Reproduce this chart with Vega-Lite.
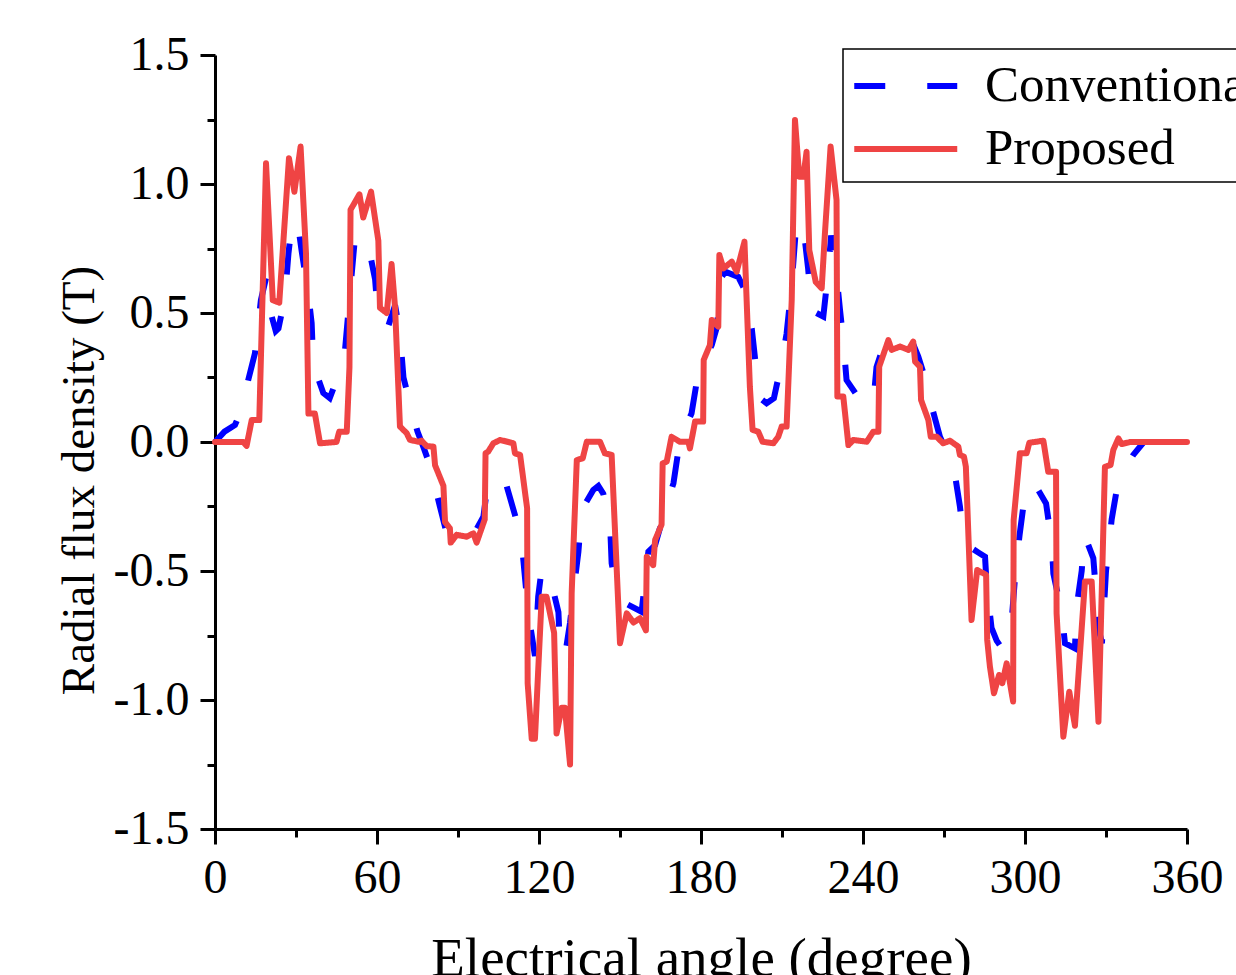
{
  "$schema": "https://vega.github.io/schema/vega-lite/v6.json",
  "width": 972,
  "height": 774,
  "autosize": "none",
  "padding": {"left": 215, "top": 55, "right": 49, "bottom": 146},
  "background": "white",
  "config": {"view": {"stroke": null}, "font": "Liberation Serif"},
  "data": {"values": [
    {"a": 0, "b": 0, "s": "Conventional"},
    {"a": 3.5, "b": 0.04, "s": "Conventional"},
    {"a": 7.4, "b": 0.066, "s": "Conventional"},
    {"a": 10, "b": 0.13, "s": "Conventional"},
    {"a": 12.3, "b": 0.24, "s": "Conventional"},
    {"a": 14.8, "b": 0.344, "s": "Conventional"},
    {"a": 17, "b": 0.55, "s": "Conventional"},
    {"a": 19, "b": 0.64, "s": "Conventional"},
    {"a": 20.4, "b": 0.51, "s": "Conventional"},
    {"a": 22.5, "b": 0.43, "s": "Conventional"},
    {"a": 23.5, "b": 0.44, "s": "Conventional"},
    {"a": 25.9, "b": 0.56, "s": "Conventional"},
    {"a": 27.2, "b": 0.73, "s": "Conventional"},
    {"a": 28.4, "b": 0.84, "s": "Conventional"},
    {"a": 29.5, "b": 0.86, "s": "Conventional"},
    {"a": 30.9, "b": 0.83, "s": "Conventional"},
    {"a": 32.1, "b": 0.74, "s": "Conventional"},
    {"a": 34.6, "b": 0.57, "s": "Conventional"},
    {"a": 35.8, "b": 0.46, "s": "Conventional"},
    {"a": 36.4, "b": 0.3, "s": "Conventional"},
    {"a": 40.1, "b": 0.19, "s": "Conventional"},
    {"a": 42.5, "b": 0.17, "s": "Conventional"},
    {"a": 45, "b": 0.24, "s": "Conventional"},
    {"a": 48.1, "b": 0.35, "s": "Conventional"},
    {"a": 50.2, "b": 0.6, "s": "Conventional"},
    {"a": 51.9, "b": 0.8, "s": "Conventional"},
    {"a": 54.3, "b": 0.74, "s": "Conventional"},
    {"a": 57.4, "b": 0.73, "s": "Conventional"},
    {"a": 59.3, "b": 0.63, "s": "Conventional"},
    {"a": 60.5, "b": 0.47, "s": "Conventional"},
    {"a": 64.2, "b": 0.45, "s": "Conventional"},
    {"a": 66.7, "b": 0.53, "s": "Conventional"},
    {"a": 68.5, "b": 0.42, "s": "Conventional"},
    {"a": 69.8, "b": 0.25, "s": "Conventional"},
    {"a": 72.2, "b": 0.15, "s": "Conventional"},
    {"a": 75, "b": 0.04, "s": "Conventional"},
    {"a": 77.2, "b": -0.02, "s": "Conventional"},
    {"a": 79.6, "b": -0.09, "s": "Conventional"},
    {"a": 83.3, "b": -0.25, "s": "Conventional"},
    {"a": 85.8, "b": -0.354, "s": "Conventional"},
    {"a": 89, "b": -0.38, "s": "Conventional"},
    {"a": 93, "b": -0.37, "s": "Conventional"},
    {"a": 96.3, "b": -0.348, "s": "Conventional"},
    {"a": 99.4, "b": -0.29, "s": "Conventional"},
    {"a": 101.2, "b": -0.147, "s": "Conventional"},
    {"a": 105.6, "b": -0.141, "s": "Conventional"},
    {"a": 108, "b": -0.17, "s": "Conventional"},
    {"a": 111.1, "b": -0.283, "s": "Conventional"},
    {"a": 113.6, "b": -0.39, "s": "Conventional"},
    {"a": 116, "b": -0.66, "s": "Conventional"},
    {"a": 118.5, "b": -0.83, "s": "Conventional"},
    {"a": 119.7, "b": -0.6, "s": "Conventional"},
    {"a": 121, "b": -0.49, "s": "Conventional"},
    {"a": 122.5, "b": -0.5, "s": "Conventional"},
    {"a": 124.7, "b": -0.55, "s": "Conventional"},
    {"a": 127.2, "b": -0.66, "s": "Conventional"},
    {"a": 127.8, "b": -0.81, "s": "Conventional"},
    {"a": 129.6, "b": -0.83, "s": "Conventional"},
    {"a": 131.5, "b": -0.7, "s": "Conventional"},
    {"a": 133.3, "b": -0.535, "s": "Conventional"},
    {"a": 134.6, "b": -0.425, "s": "Conventional"},
    {"a": 135.8, "b": -0.264, "s": "Conventional"},
    {"a": 140.1, "b": -0.186, "s": "Conventional"},
    {"a": 142, "b": -0.17, "s": "Conventional"},
    {"a": 143.8, "b": -0.2, "s": "Conventional"},
    {"a": 146.3, "b": -0.31, "s": "Conventional"},
    {"a": 146.9, "b": -0.47, "s": "Conventional"},
    {"a": 148.8, "b": -0.575, "s": "Conventional"},
    {"a": 151.9, "b": -0.625, "s": "Conventional"},
    {"a": 158, "b": -0.658, "s": "Conventional"},
    {"a": 159.9, "b": -0.48, "s": "Conventional"},
    {"a": 160.5, "b": -0.425, "s": "Conventional"},
    {"a": 163, "b": -0.4, "s": "Conventional"},
    {"a": 166.7, "b": -0.264, "s": "Conventional"},
    {"a": 169.8, "b": -0.16, "s": "Conventional"},
    {"a": 172.2, "b": 0.008, "s": "Conventional"},
    {"a": 176.5, "b": 0.111, "s": "Conventional"},
    {"a": 179, "b": 0.27, "s": "Conventional"},
    {"a": 184, "b": 0.376, "s": "Conventional"},
    {"a": 186, "b": 0.45, "s": "Conventional"},
    {"a": 187, "b": 0.63, "s": "Conventional"},
    {"a": 189, "b": 0.66, "s": "Conventional"},
    {"a": 193.8, "b": 0.64, "s": "Conventional"},
    {"a": 195.7, "b": 0.6, "s": "Conventional"},
    {"a": 198.8, "b": 0.44, "s": "Conventional"},
    {"a": 200, "b": 0.325, "s": "Conventional"},
    {"a": 201.9, "b": 0.17, "s": "Conventional"},
    {"a": 204.3, "b": 0.15, "s": "Conventional"},
    {"a": 207, "b": 0.17, "s": "Conventional"},
    {"a": 209.9, "b": 0.31, "s": "Conventional"},
    {"a": 211.7, "b": 0.42, "s": "Conventional"},
    {"a": 213.5, "b": 0.6, "s": "Conventional"},
    {"a": 215.4, "b": 0.86, "s": "Conventional"},
    {"a": 217.3, "b": 0.82, "s": "Conventional"},
    {"a": 218.5, "b": 0.78, "s": "Conventional"},
    {"a": 219.7, "b": 0.67, "s": "Conventional"},
    {"a": 221, "b": 0.51, "s": "Conventional"},
    {"a": 225.3, "b": 0.486, "s": "Conventional"},
    {"a": 227, "b": 0.65, "s": "Conventional"},
    {"a": 228.2, "b": 0.8, "s": "Conventional"},
    {"a": 229.5, "b": 0.72, "s": "Conventional"},
    {"a": 231.5, "b": 0.51, "s": "Conventional"},
    {"a": 232.7, "b": 0.395, "s": "Conventional"},
    {"a": 233.9, "b": 0.24, "s": "Conventional"},
    {"a": 238.9, "b": 0.163, "s": "Conventional"},
    {"a": 241.5, "b": 0.14, "s": "Conventional"},
    {"a": 243.8, "b": 0.15, "s": "Conventional"},
    {"a": 245, "b": 0.29, "s": "Conventional"},
    {"a": 247.5, "b": 0.37, "s": "Conventional"},
    {"a": 250.6, "b": 0.395, "s": "Conventional"},
    {"a": 258, "b": 0.395, "s": "Conventional"},
    {"a": 260.5, "b": 0.33, "s": "Conventional"},
    {"a": 262.3, "b": 0.27, "s": "Conventional"},
    {"a": 264.8, "b": 0.163, "s": "Conventional"},
    {"a": 268.5, "b": 0.02, "s": "Conventional"},
    {"a": 273.5, "b": -0.09, "s": "Conventional"},
    {"a": 275.9, "b": -0.25, "s": "Conventional"},
    {"a": 277.2, "b": -0.37, "s": "Conventional"},
    {"a": 280, "b": -0.41, "s": "Conventional"},
    {"a": 283, "b": -0.43, "s": "Conventional"},
    {"a": 285.2, "b": -0.445, "s": "Conventional"},
    {"a": 285.8, "b": -0.554, "s": "Conventional"},
    {"a": 287.6, "b": -0.72, "s": "Conventional"},
    {"a": 289.5, "b": -0.77, "s": "Conventional"},
    {"a": 291.5, "b": -0.8, "s": "Conventional"},
    {"a": 293.2, "b": -0.78, "s": "Conventional"},
    {"a": 295.3, "b": -0.66, "s": "Conventional"},
    {"a": 296.5, "b": -0.5, "s": "Conventional"},
    {"a": 298, "b": -0.36, "s": "Conventional"},
    {"a": 300, "b": -0.2, "s": "Conventional"},
    {"a": 301.6, "b": -0.154, "s": "Conventional"},
    {"a": 304, "b": -0.17, "s": "Conventional"},
    {"a": 307.8, "b": -0.238, "s": "Conventional"},
    {"a": 309.9, "b": -0.39, "s": "Conventional"},
    {"a": 310.5, "b": -0.51, "s": "Conventional"},
    {"a": 313.6, "b": -0.66, "s": "Conventional"},
    {"a": 314.8, "b": -0.78, "s": "Conventional"},
    {"a": 316.7, "b": -0.79, "s": "Conventional"},
    {"a": 318.5, "b": -0.8, "s": "Conventional"},
    {"a": 319.1, "b": -0.64, "s": "Conventional"},
    {"a": 321, "b": -0.5, "s": "Conventional"},
    {"a": 322, "b": -0.36, "s": "Conventional"},
    {"a": 325.3, "b": -0.45, "s": "Conventional"},
    {"a": 326.5, "b": -0.61, "s": "Conventional"},
    {"a": 327.2, "b": -0.72, "s": "Conventional"},
    {"a": 328.5, "b": -0.78, "s": "Conventional"},
    {"a": 330, "b": -0.5, "s": "Conventional"},
    {"a": 330.9, "b": -0.42, "s": "Conventional"},
    {"a": 332.1, "b": -0.3, "s": "Conventional"},
    {"a": 334.6, "b": -0.147, "s": "Conventional"},
    {"a": 340.1, "b": -0.05, "s": "Conventional"},
    {"a": 344, "b": 0, "s": "Conventional"},
    {"a": 360, "b": 0, "s": "Conventional"},

    {"a": 0, "b": 0, "s": "Proposed"},
    {"a": 10.5, "b": 0, "s": "Proposed"},
    {"a": 11.7, "b": -0.015, "s": "Proposed"},
    {"a": 13.6, "b": 0.085, "s": "Proposed"},
    {"a": 16.4, "b": 0.085, "s": "Proposed"},
    {"a": 18.9, "b": 1.08, "s": "Proposed"},
    {"a": 21.4, "b": 0.55, "s": "Proposed"},
    {"a": 23.8, "b": 0.54, "s": "Proposed"},
    {"a": 27.4, "b": 1.1, "s": "Proposed"},
    {"a": 29.4, "b": 0.97, "s": "Proposed"},
    {"a": 31.7, "b": 1.145, "s": "Proposed"},
    {"a": 33.7, "b": 0.73, "s": "Proposed"},
    {"a": 34.6, "b": 0.11, "s": "Proposed"},
    {"a": 37, "b": 0.11, "s": "Proposed"},
    {"a": 38.9, "b": -0.005, "s": "Proposed"},
    {"a": 45, "b": 0, "s": "Proposed"},
    {"a": 46, "b": 0.04, "s": "Proposed"},
    {"a": 48.8, "b": 0.04, "s": "Proposed"},
    {"a": 49.8, "b": 0.29, "s": "Proposed"},
    {"a": 50.2, "b": 0.9, "s": "Proposed"},
    {"a": 53.5, "b": 0.96, "s": "Proposed"},
    {"a": 54.9, "b": 0.87, "s": "Proposed"},
    {"a": 57.8, "b": 0.97, "s": "Proposed"},
    {"a": 60.5, "b": 0.78, "s": "Proposed"},
    {"a": 61.1, "b": 0.52, "s": "Proposed"},
    {"a": 63.6, "b": 0.5, "s": "Proposed"},
    {"a": 65.4, "b": 0.69, "s": "Proposed"},
    {"a": 66.7, "b": 0.52, "s": "Proposed"},
    {"a": 68.5, "b": 0.06, "s": "Proposed"},
    {"a": 71, "b": 0.034, "s": "Proposed"},
    {"a": 72.2, "b": 0.008, "s": "Proposed"},
    {"a": 75.9, "b": 0, "s": "Proposed"},
    {"a": 76.5, "b": 0.005, "s": "Proposed"},
    {"a": 78.4, "b": -0.016, "s": "Proposed"},
    {"a": 80.9, "b": -0.018, "s": "Proposed"},
    {"a": 81.5, "b": -0.09, "s": "Proposed"},
    {"a": 84.6, "b": -0.17, "s": "Proposed"},
    {"a": 85.2, "b": -0.31, "s": "Proposed"},
    {"a": 87, "b": -0.335, "s": "Proposed"},
    {"a": 87.3, "b": -0.39, "s": "Proposed"},
    {"a": 89.5, "b": -0.36, "s": "Proposed"},
    {"a": 93.2, "b": -0.367, "s": "Proposed"},
    {"a": 95.7, "b": -0.354, "s": "Proposed"},
    {"a": 96.9, "b": -0.39, "s": "Proposed"},
    {"a": 99.9, "b": -0.3, "s": "Proposed"},
    {"a": 100.2, "b": -0.044, "s": "Proposed"},
    {"a": 101.2, "b": -0.037, "s": "Proposed"},
    {"a": 103.1, "b": -0.005, "s": "Proposed"},
    {"a": 105.6, "b": 0.008, "s": "Proposed"},
    {"a": 110.5, "b": -0.005, "s": "Proposed"},
    {"a": 111.1, "b": -0.044, "s": "Proposed"},
    {"a": 113, "b": -0.05, "s": "Proposed"},
    {"a": 115.6, "b": -0.257, "s": "Proposed"},
    {"a": 115.8, "b": -0.935, "s": "Proposed"},
    {"a": 117.3, "b": -1.15, "s": "Proposed"},
    {"a": 118.5, "b": -1.15, "s": "Proposed"},
    {"a": 121, "b": -0.6, "s": "Proposed"},
    {"a": 122.8, "b": -0.6, "s": "Proposed"},
    {"a": 125.6, "b": -0.74, "s": "Proposed"},
    {"a": 126.5, "b": -1.13, "s": "Proposed"},
    {"a": 128.4, "b": -1.03, "s": "Proposed"},
    {"a": 129.6, "b": -1.03, "s": "Proposed"},
    {"a": 131.5, "b": -1.25, "s": "Proposed"},
    {"a": 132.1, "b": -0.586, "s": "Proposed"},
    {"a": 134, "b": -0.07, "s": "Proposed"},
    {"a": 136.2, "b": -0.063, "s": "Proposed"},
    {"a": 137.7, "b": 0.001, "s": "Proposed"},
    {"a": 142.6, "b": 0.001, "s": "Proposed"},
    {"a": 144.4, "b": -0.044, "s": "Proposed"},
    {"a": 146.9, "b": -0.05, "s": "Proposed"},
    {"a": 150, "b": -0.78, "s": "Proposed"},
    {"a": 152.5, "b": -0.664, "s": "Proposed"},
    {"a": 155, "b": -0.7, "s": "Proposed"},
    {"a": 157.4, "b": -0.683, "s": "Proposed"},
    {"a": 159.6, "b": -0.73, "s": "Proposed"},
    {"a": 159.9, "b": -0.445, "s": "Proposed"},
    {"a": 162.3, "b": -0.477, "s": "Proposed"},
    {"a": 163, "b": -0.38, "s": "Proposed"},
    {"a": 165.4, "b": -0.32, "s": "Proposed"},
    {"a": 165.8, "b": -0.083, "s": "Proposed"},
    {"a": 167.3, "b": -0.076, "s": "Proposed"},
    {"a": 169.1, "b": 0.02, "s": "Proposed"},
    {"a": 172.2, "b": 0.001, "s": "Proposed"},
    {"a": 175.3, "b": 0.001, "s": "Proposed"},
    {"a": 175.9, "b": -0.025, "s": "Proposed"},
    {"a": 177.8, "b": 0.079, "s": "Proposed"},
    {"a": 180.8, "b": 0.079, "s": "Proposed"},
    {"a": 181, "b": 0.318, "s": "Proposed"},
    {"a": 183.3, "b": 0.376, "s": "Proposed"},
    {"a": 184, "b": 0.473, "s": "Proposed"},
    {"a": 186.4, "b": 0.447, "s": "Proposed"},
    {"a": 186.8, "b": 0.725, "s": "Proposed"},
    {"a": 188.3, "b": 0.673, "s": "Proposed"},
    {"a": 191.4, "b": 0.699, "s": "Proposed"},
    {"a": 193.2, "b": 0.66, "s": "Proposed"},
    {"a": 196.1, "b": 0.776, "s": "Proposed"},
    {"a": 196.9, "b": 0.55, "s": "Proposed"},
    {"a": 198.1, "b": 0.214, "s": "Proposed"},
    {"a": 199.1, "b": 0.047, "s": "Proposed"},
    {"a": 201.2, "b": 0.04, "s": "Proposed"},
    {"a": 202.8, "b": 0.001, "s": "Proposed"},
    {"a": 206.8, "b": -0.005, "s": "Proposed"},
    {"a": 208.6, "b": 0.02, "s": "Proposed"},
    {"a": 209.9, "b": 0.06, "s": "Proposed"},
    {"a": 211.7, "b": 0.06, "s": "Proposed"},
    {"a": 213.6, "b": 0.55, "s": "Proposed"},
    {"a": 214.8, "b": 1.248, "s": "Proposed"},
    {"a": 216.4, "b": 1.028, "s": "Proposed"},
    {"a": 217.9, "b": 1.028, "s": "Proposed"},
    {"a": 219.1, "b": 1.125, "s": "Proposed"},
    {"a": 220.1, "b": 0.744, "s": "Proposed"},
    {"a": 222.5, "b": 0.62, "s": "Proposed"},
    {"a": 224.7, "b": 0.596, "s": "Proposed"},
    {"a": 225.9, "b": 0.809, "s": "Proposed"},
    {"a": 228, "b": 1.145, "s": "Proposed"},
    {"a": 230.2, "b": 0.938, "s": "Proposed"},
    {"a": 230.5, "b": 0.176, "s": "Proposed"},
    {"a": 232.7, "b": 0.176, "s": "Proposed"},
    {"a": 234.6, "b": -0.012, "s": "Proposed"},
    {"a": 236.4, "b": 0.008, "s": "Proposed"},
    {"a": 241.4, "b": 0.001, "s": "Proposed"},
    {"a": 243.8, "b": 0.04, "s": "Proposed"},
    {"a": 245.7, "b": 0.04, "s": "Proposed"},
    {"a": 246, "b": 0.292, "s": "Proposed"},
    {"a": 249.4, "b": 0.395, "s": "Proposed"},
    {"a": 250.6, "b": 0.357, "s": "Proposed"},
    {"a": 253.7, "b": 0.37, "s": "Proposed"},
    {"a": 256.8, "b": 0.357, "s": "Proposed"},
    {"a": 258.6, "b": 0.389, "s": "Proposed"},
    {"a": 259.3, "b": 0.311, "s": "Proposed"},
    {"a": 261.1, "b": 0.292, "s": "Proposed"},
    {"a": 261.5, "b": 0.163, "s": "Proposed"},
    {"a": 264.2, "b": 0.085, "s": "Proposed"},
    {"a": 265.1, "b": 0.02, "s": "Proposed"},
    {"a": 267.3, "b": 0.02, "s": "Proposed"},
    {"a": 269.7, "b": -0.005, "s": "Proposed"},
    {"a": 272.2, "b": 0.005, "s": "Proposed"},
    {"a": 275.3, "b": -0.018, "s": "Proposed"},
    {"a": 275.9, "b": -0.05, "s": "Proposed"},
    {"a": 277.4, "b": -0.057, "s": "Proposed"},
    {"a": 278.1, "b": -0.096, "s": "Proposed"},
    {"a": 280.2, "b": -0.69, "s": "Proposed"},
    {"a": 282.3, "b": -0.496, "s": "Proposed"},
    {"a": 285.6, "b": -0.515, "s": "Proposed"},
    {"a": 286, "b": -0.767, "s": "Proposed"},
    {"a": 287, "b": -0.87, "s": "Proposed"},
    {"a": 288.5, "b": -0.974, "s": "Proposed"},
    {"a": 290.4, "b": -0.903, "s": "Proposed"},
    {"a": 291.6, "b": -0.935, "s": "Proposed"},
    {"a": 293.2, "b": -0.858, "s": "Proposed"},
    {"a": 295.6, "b": -1.006, "s": "Proposed"},
    {"a": 295.8, "b": -0.302, "s": "Proposed"},
    {"a": 298.1, "b": -0.044, "s": "Proposed"},
    {"a": 300.6, "b": -0.044, "s": "Proposed"},
    {"a": 301.6, "b": -0.003, "s": "Proposed"},
    {"a": 306.8, "b": 0.005, "s": "Proposed"},
    {"a": 308.6, "b": -0.115, "s": "Proposed"},
    {"a": 311.5, "b": -0.115, "s": "Proposed"},
    {"a": 311.7, "b": -0.664, "s": "Proposed"},
    {"a": 314.2, "b": -1.142, "s": "Proposed"},
    {"a": 316.4, "b": -0.968, "s": "Proposed"},
    {"a": 318.5, "b": -1.1, "s": "Proposed"},
    {"a": 322.2, "b": -0.541, "s": "Proposed"},
    {"a": 324.7, "b": -0.541, "s": "Proposed"},
    {"a": 327.2, "b": -1.084, "s": "Proposed"},
    {"a": 329.6, "b": -0.096, "s": "Proposed"},
    {"a": 331.7, "b": -0.089, "s": "Proposed"},
    {"a": 332.7, "b": -0.031, "s": "Proposed"},
    {"a": 334.6, "b": 0.014, "s": "Proposed"},
    {"a": 335.8, "b": -0.008, "s": "Proposed"},
    {"a": 338.9, "b": 0, "s": "Proposed"},
    {"a": 360, "b": 0, "s": "Proposed"}
  ]},
  "layer": [
    {
      "transform": [{"filter": "datum.s === 'Conventional'"}],
      "mark": {"type": "line", "strokeWidth": 6, "strokeCap": "butt"},
      "encoding": {
        "x": {"field": "a", "type": "quantitative",
          "scale": {"domain": [0, 360], "nice": false, "zero": false},
          "axis": {"orient": "bottom", "values": [0, 60, 120, 180, 240, 300, 360], "grid": false,
            "domainColor": "black", "domainWidth": 3, "tickColor": "black", "tickWidth": 3, "tickSize": 15,
            "labelFont": "Liberation Serif", "labelFontSize": 48, "labelColor": "black",
            "labelBaseline": "alphabetic", "labelPadding": 48, "labelFlush": false, "labelOverlap": false,
            "title": "Electrical angle (degree)", "titleFont": "Liberation Serif", "titleFontSize": 55,
            "titleFontWeight": "normal", "titleColor": "black", "titleBaseline": "alphabetic",
            "titleX": 486, "titleY": 146}},
        "y": {"field": "b", "type": "quantitative",
          "scale": {"domain": [-1.5, 1.5], "nice": false, "zero": false},
          "axis": {"orient": "left", "values": [-1.5, -1, -0.5, 0, 0.5, 1, 1.5], "grid": false,
            "labelExpr": "datum.value < 0 ? '-' + format(-datum.value, '.1f') : format(datum.value, '.1f')",
            "domainColor": "black", "domainWidth": 3, "tickColor": "black", "tickWidth": 3, "tickSize": 15,
            "labelFont": "Liberation Serif", "labelFontSize": 48, "labelColor": "black",
            "labelPadding": 11, "labelFlush": false, "labelOverlap": false,
            "title": "Radial flux density (T)", "titleFont": "Liberation Serif", "titleFontSize": 47,
            "titleFontWeight": "normal", "titleColor": "black", "titleBaseline": "alphabetic",
            "titleAngle": 270, "titleX": -122, "titleY": 425}},
        "color": {"field": "s", "type": "nominal",
          "scale": {"domain": ["Conventional", "Proposed"], "range": ["#0000FF", "#EF4444"]},
          "legend": {"orient": "none", "legendX": 628, "legendY": -6, "title": null,
            "strokeColor": "black", "fillColor": "white", "padding": 8,
            "labelFont": "Liberation Serif", "labelFontSize": 51, "labelColor": "black", "labelLimit": 0,
            "symbolType": "M-1,0H3", "symbolSize": 2652, "symbolStrokeWidth": 6, "labelOffset": 76,
            "rowPadding": 9, "cornerRadius": 0,
            "encode": {"legend": {"update": {"strokeWidth": {"value": 1.5}}}}}},
        "strokeDash": {"field": "s", "type": "nominal",
          "scale": {"domain": ["Conventional", "Proposed"], "range": [[31, 42], [1, 0]]},
          "legend": null}
      }
    },
    {
      "transform": [{"filter": "datum.s === 'Proposed'"}],
      "mark": {"type": "line", "strokeWidth": 6, "strokeJoin": "round", "strokeCap": "round"},
      "encoding": {
        "x": {"field": "a", "type": "quantitative",
          "axis": {"orient": "bottom", "values": [30, 90, 150, 210, 270, 330], "grid": false,
            "domain": false, "labels": false, "title": null, "tickColor": "black", "tickWidth": 3, "tickSize": 8}},
        "y": {"field": "b", "type": "quantitative",
          "axis": {"orient": "left", "values": [-1.25, -0.75, -0.25, 0.25, 0.75, 1.25], "grid": false,
            "domain": false, "labels": false, "title": null, "tickColor": "black", "tickWidth": 3, "tickSize": 8}},
        "color": {"field": "s", "type": "nominal"},
        "strokeDash": {"field": "s", "type": "nominal"}
      }
    }
  ],
  "resolve": {"axis": {"x": "independent", "y": "independent"}}
}
